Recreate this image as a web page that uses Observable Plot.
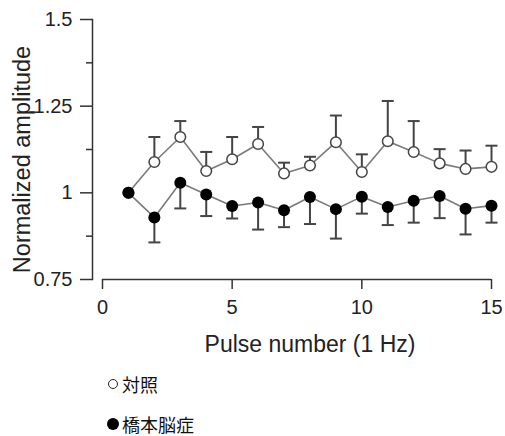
<!DOCTYPE html>
<html>
<head>
<meta charset="utf-8">
<script src="https://cdn.jsdelivr.net/npm/d3@7"></script>
<script src="https://cdn.jsdelivr.net/npm/@observablehq/plot@0.6"></script>
<style>
  html, body { margin: 0; padding: 0; background: #fff; }
  #chart svg { display: block; }
  .legend { font-family: "Noto Sans CJK JP", "Liberation Sans", sans-serif; font-size: 18px; color: #111; margin-left: 108px; }
  .row { height: 20px; line-height: 20px; display: flex; align-items: center; }
  .sym { display: inline-block; width: 10px; height: 10px; border-radius: 50%; box-sizing: border-box; margin-right: 4px; }
  .open { border: 1.3px solid #222; background: #fff; }
  .filled { background: #000; width: 12px; height: 12px; margin-left: -1px; margin-right: 3px; }
</style>
</head>
<body>
<div id="chart"></div>
<div class="legend" id="legend"></div>
<script>
const pulses = [1, 2, 3, 4, 5, 6, 7, 8, 9, 10, 11, 12, 13, 14, 15];
const controlMean = [1.0, 1.089, 1.161, 1.063, 1.097, 1.141, 1.056, 1.079, 1.146, 1.060, 1.149, 1.118, 1.085, 1.069, 1.075];
const controlErr  = [0, 0.072, 0.046, 0.055, 0.064, 0.049, 0.031, 0.025, 0.077, 0.051, 0.116, 0.089, 0.041, 0.053, 0.061];
const hashiMean   = [1.0, 0.929, 1.029, 0.995, 0.962, 0.972, 0.950, 0.988, 0.953, 0.989, 0.959, 0.977, 0.991, 0.954, 0.963];
const hashiErr    = [0, 0.072, 0.074, 0.062, 0.036, 0.078, 0.049, 0.078, 0.085, 0.049, 0.052, 0.063, 0.064, 0.074, 0.049];
const seriesNames = ["対照", "橋本脳症"];
const xTicks = [0, 5, 10, 15];
const yTicks = [0.75, 1, 1.25, 1.5];
const yMinorTicks = [0.875, 1.125, 1.375];
const yTickLabels = ["0.75", "1", "1.25", "1.5"];
const xLabel = "Pulse number (1 Hz)";
const yLabel = "Normalized amplitude";

const control = pulses.map((p, i) => ({x: p, y: controlMean[i], top: controlMean[i] + controlErr[i], err: controlErr[i]}));
const hashi = pulses.map((p, i) => ({x: p, y: hashiMean[i], bot: hashiMean[i] - hashiErr[i], err: hashiErr[i]}));
const controlBars = control.filter(d => d.err > 0);
const hashiBars = hashi.filter(d => d.err > 0);

const cap = { draw(ctx) { ctx.moveTo(-6, 0); ctx.lineTo(6, 0); } };
const font = "'Liberation Sans', Arial, sans-serif";

const chart = Plot.plot({
  width: 505,
  height: 362,
  marginLeft: 92,
  marginRight: 14,
  marginTop: 19,
  marginBottom: 83,
  style: { fontFamily: font, color: "#222", background: "#fff" },
  x: { domain: [0, 15], range: [102, 491] },
  y: { domain: [0.75, 1.5] },
  marks: [
    Plot.frame({ anchor: "left", stroke: "#333", strokeWidth: 1.5 }),
    Plot.ruleY([0.75], { x1: 0, x2: 15, stroke: "#333", strokeWidth: 1.5 }),
    Plot.axisY({ ticks: yTicks, tickSize: 12, tickPadding: 8, tickFormat: (d) => yTickLabels[yTicks.indexOf(d)], fontSize: 20, stroke: "#333", strokeWidth: 1.5, strokeOpacity: 1, label: null }),
    Plot.axisY({ ticks: yMinorTicks, tickSize: 6, text: null, stroke: "#333", strokeWidth: 1.5, strokeOpacity: 1, label: null }),
    Plot.axisX({ ticks: xTicks, tickSize: 10, tickPadding: 10, fontSize: 20, stroke: "#333", strokeWidth: 1.5, strokeOpacity: 1, label: null }),
    Plot.text([xLabel], { frameAnchor: "bottom", lineAnchor: "middle", dy: 65, dx: 18, fontSize: 23, fill: "#222" }),
    Plot.text([yLabel], { frameAnchor: "left", textAnchor: "middle", lineAnchor: "middle", rotate: -90, dx: -70, dy: 10, fontSize: 23.5, fill: "#222" }),
    Plot.line(control, { x: "x", y: "y", stroke: "#7a7a7a", strokeWidth: 1.6 }),
    Plot.line(hashi, { x: "x", y: "y", stroke: "#7a7a7a", strokeWidth: 1.6 }),
    Plot.ruleX(controlBars, { x: "x", y1: "y", y2: "top", stroke: "#444", strokeWidth: 2 }),
    Plot.dot(controlBars, { x: "x", y: "top", symbol: cap, stroke: "#444", strokeWidth: 2, r: 6 }),
    Plot.ruleX(hashiBars, { x: "x", y1: "y", y2: "bot", stroke: "#444", strokeWidth: 2 }),
    Plot.dot(hashiBars, { x: "x", y: "bot", symbol: cap, stroke: "#444", strokeWidth: 2, r: 6 }),
    Plot.dot(control, { x: "x", y: "y", r: 5.3, fill: "#fff", stroke: "#444", strokeWidth: 1.5 }),
    Plot.dot(hashi, { x: "x", y: "y", r: 6, fill: "#000", stroke: "none" })
  ]
});
document.getElementById("chart").appendChild(chart);

const legend = document.getElementById("legend");
legend.innerHTML = `
  <div class="row" style="margin-top:12px"><span class="sym open"></span>${seriesNames[0]}</div>
  <div class="row" style="margin-top:20px"><span class="sym filled"></span>${seriesNames[1]}</div>`;
</script>
</body>
</html>
